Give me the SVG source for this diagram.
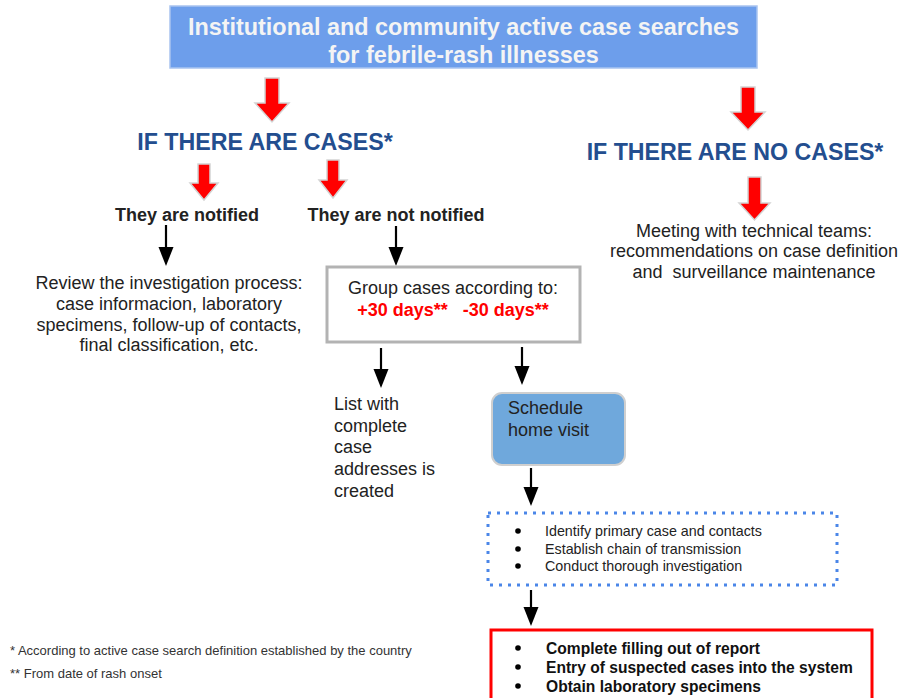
<svg xmlns="http://www.w3.org/2000/svg" width="902" height="698" viewBox="0 0 902 698">
<style>
.t{font-family:"Liberation Sans",Arial,sans-serif;font-size:18px;fill:#222}
.b{font-weight:bold}
.hd{font-family:"Liberation Sans",Arial,sans-serif;font-size:23.2px;font-weight:bold;fill:#234e8f}
.ttl{font-family:"Liberation Sans",Arial,sans-serif;font-size:23.4px;font-weight:bold;fill:#f4f4f4}
.sm{font-family:"Liberation Sans",Arial,sans-serif;font-size:14.3px;fill:#222}
.rb{font-family:"Liberation Sans",Arial,sans-serif;font-size:15.6px;font-weight:bold;fill:#111}
.fn{font-family:"Liberation Sans",Arial,sans-serif;font-size:13px;fill:#333}
.ra{fill:#ff0000;stroke:#d4d4d4;stroke-width:1.5;stroke-linejoin:miter}
.bl{stroke:#000;stroke-width:2.2;fill:none}
.bh{fill:#000}
</style>
<rect width="902" height="698" fill="#ffffff"/>
<g id="connectors">
<polygon class="ra" points="265,78 279,78 279,103 289,103 272,122 255,103 265,103"/>
<polygon class="ra" points="741,87 755,87 755,112 765,112 748,130 731,112 741,112"/>
<polygon class="ra" points="748,177 761,177 761,203 770,203 754.5,220 739,203 748,203"/>
<polygon class="ra" points="198,164 210,164 210,183 218,183 204,200 190,183 198,183"/>
<polygon class="ra" points="327,160 339,160 339,180 347,180 333,198 319,180 327,180"/>
<line class="bl" x1="166" y1="225" x2="166" y2="248"/><polygon class="bh" points="158.5,247 173.5,247 166,266"/>
<line class="bl" x1="396" y1="226" x2="396" y2="248"/><polygon class="bh" points="388.5,247 403.5,247 396,266"/>
<line class="bl" x1="381" y1="348" x2="381" y2="370"/><polygon class="bh" points="373.5,369 388.5,369 381,388"/>
<line class="bl" x1="522" y1="347" x2="522" y2="367"/><polygon class="bh" points="514.5,366 529.5,366 522,385"/>
<line class="bl" x1="531" y1="468" x2="531" y2="488"/><polygon class="bh" points="523.5,487 538.5,487 531,506"/>
<line class="bl" x1="531" y1="590" x2="531" y2="608"/><polygon class="bh" points="523.5,607 538.5,607 531,626"/>
</g>
<g id="node-title">
<rect x="170" y="6" width="587" height="62" fill="#6d9eeb" stroke="#a9c4f0" stroke-width="1.5"/>
<text class="ttl" x="463.5" y="35" text-anchor="middle">Institutional and community active case searches</text>
<text class="ttl" x="463.5" y="63" text-anchor="middle">for febrile-rash illnesses</text>
</g>
<g id="node-cases">
<text class="hd" x="265" y="150" text-anchor="middle">IF THERE ARE CASES*</text>
</g>
<g id="node-nocases">
<text class="hd" x="735" y="160" text-anchor="middle">IF THERE ARE NO CASES*</text>
</g>
<g id="node-notified">
<text class="t b" x="187" y="221" text-anchor="middle">They are notified</text>
</g>
<g id="node-notnotified">
<text class="t b" x="396" y="221" text-anchor="middle">They are not notified</text>
</g>
<g id="node-review">
<text class="t" x="169" y="289" text-anchor="middle">Review the investigation process:</text>
<text class="t" x="169" y="310" text-anchor="middle">case informacion, laboratory</text>
<text class="t" x="169" y="331" text-anchor="middle">specimens, follow-up of contacts,</text>
<text class="t" x="169" y="351" text-anchor="middle">final classification, etc.</text>
</g>
<g id="node-meeting">
<text class="t" x="754" y="237" text-anchor="middle">Meeting with technical teams:</text>
<text class="t" x="754" y="257" text-anchor="middle">recommendations on case definition</text>
<text class="t" x="754" y="278" text-anchor="middle" xml:space="preserve">and  surveillance maintenance</text>
</g>
<g id="node-group">
<rect x="327" y="267" width="253" height="75" fill="#ffffff" stroke="#b3b3b3" stroke-width="3"/>
<text class="t" x="453" y="294" text-anchor="middle">Group cases according to:</text>
<text class="t b" x="453" y="316" text-anchor="middle" style="fill:#ff0000" xml:space="preserve">+30 days**   -30 days**</text>
</g>
<g id="node-list">
<text class="t" x="334" y="410">List with</text>
<text class="t" x="334" y="432">complete</text>
<text class="t" x="334" y="453">case</text>
<text class="t" x="334" y="475">addresses is</text>
<text class="t" x="334" y="497">created</text>
</g>
<g id="node-schedule">
<rect x="492" y="393" width="133" height="72" rx="10" fill="#6fa8dc" stroke="#cfcfcf" stroke-width="2"/>
<text class="t" x="508" y="414">Schedule</text>
<text class="t" x="508" y="436">home visit</text>
</g>
<g id="node-investigate">
<rect x="488" y="513" width="349" height="72" fill="none" stroke="#4a86e8" stroke-width="3" stroke-dasharray="3 6"/>
<circle cx="518" cy="531" r="2.8" fill="#000"/>
<circle cx="518" cy="549" r="2.8" fill="#000"/>
<circle cx="518" cy="566" r="2.8" fill="#000"/>
<text class="sm" x="545" y="536">Identify primary case and contacts</text>
<text class="sm" x="545" y="554">Establish chain of transmission</text>
<text class="sm" x="545" y="571">Conduct thorough investigation</text>
</g>
<g id="node-report">
<rect x="491" y="630" width="381" height="75" fill="#ffffff" stroke="#ff0000" stroke-width="3"/>
<circle cx="518" cy="648" r="2.8" fill="#000"/>
<circle cx="518" cy="667" r="2.8" fill="#000"/>
<circle cx="518" cy="686" r="2.8" fill="#000"/>
<text class="rb" x="546" y="654">Complete filling out of report</text>
<text class="rb" x="546" y="673">Entry of suspected cases into the system</text>
<text class="rb" x="546" y="692">Obtain laboratory specimens</text>
</g>
<g id="footnotes">
<text class="fn" x="10" y="655">* According to active case search definition established by the country</text>
<text class="fn" x="10" y="678">** From date of rash onset</text>
</g>
</svg>
